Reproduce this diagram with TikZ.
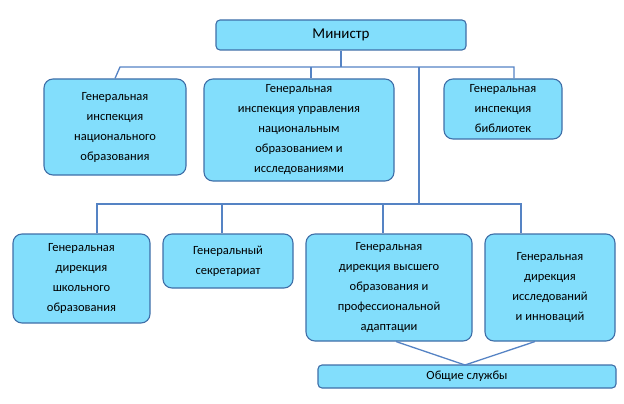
\documentclass[tikz,border=0pt]{standalone}
\usepackage{fontspec}
\setmainfont{Carlito}
\tikzset{
    unit/.style={draw=boxline, fill=boxfill, line width=1.1pt, rounded corners=9pt,
        align=center, inner sep=2pt, font=\fontsize{12.5}{20}\selectfont},
    link/.style={draw=linkcol, line width=1.3pt}
}
\definecolor{boxfill}{HTML}{82DEFC}
\definecolor{boxline}{HTML}{3F6FA8}
\definecolor{linkcol}{HTML}{5583C4}
\begin{document}
\begin{tikzpicture}[x=1pt, y=-1pt]
    \useasboundingbox (0,0) rectangle (624,404);
    % Draw the boxes
    \node[unit, rounded corners=4pt, minimum width=250pt, minimum height=30pt, font=\fontsize{15}{18}\selectfont] (min) at (341,35) {Министр};

    \node[unit, minimum width=142pt, minimum height=96pt] (insp) at (115,127) {Генеральная\\инспекция\\национального\\образования};
    \node[unit, minimum width=190pt, minimum height=102pt] (upr) at (299,130) {Генеральная\\инспекция управления\\национальным\\образованием и\\исследованиями};
    \node[unit, minimum width=118pt, minimum height=60pt] (bib) at (503,109) {Генеральная\\инспекция\\библиотек};

    \node[unit, minimum width=137pt, minimum height=89pt] (shk) at (81.5,278.5) {Генеральная\\дирекция\\школьного\\образования};
    \node[unit, minimum width=130pt, minimum height=54pt] (sekr) at (228,261) {Генеральный\\секретариат};
    \node[unit, minimum width=166pt, minimum height=107pt] (vys) at (389,287.5) {Генеральная\\дирекция высшего\\образования и\\профессиональной\\адаптации};
    \node[unit, minimum width=130pt, minimum height=107pt] (isl) at (550,287.5) {Генеральная\\дирекция\\исследований\\и инноваций};

    \node[unit, rounded corners=4pt, minimum width=298pt, minimum height=23pt] (obs) at (467,376.5) {Общие службы};

    % Bus points
    \coordinate (t0) at (341,67);
    \coordinate (tl) at (120,67);
    \coordinate (tm) at (311,67);
    \coordinate (tv) at (419,67);
    \coordinate (tr) at (514,67);
    \coordinate (bv) at (419,204);
    \coordinate (bl) at (97,204);
    \coordinate (b2) at (222,204);
    \coordinate (b3) at (383,204);
    \coordinate (br) at (521,204);
    \coordinate (m) at (465,365);

    % Connect the boxes
    \draw[link] (min.south) -- (t0);
    \draw[link] (insp.north -| 115,0) -- (tl) -- (tr) -- (bib.north -| tr);
    \draw[link] (tm) -- (upr.north -| tm);
    \draw[link] (tv) -- (bv);
    \draw[link] (shk.north -| bl) -- (bl) -- (br) -- (isl.north -| br);
    \draw[link] (b2) -- (sekr.north -| b2);
    \draw[link] (b3) -- (vys.north -| b3);
    \draw[link] (vys.south -| 396,0) -- (m) -- (isl.south -| 535,0);
\end{tikzpicture}
\end{document}
